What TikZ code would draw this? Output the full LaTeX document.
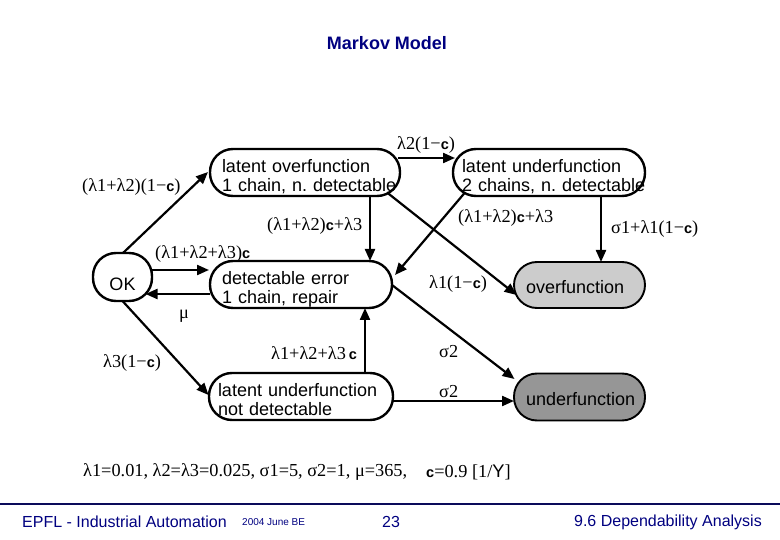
\documentclass[tikz,border=0pt]{standalone}
\usepackage{fontspec}
\setmainfont{Liberation Serif}
\setsansfont{Liberation Sans}
\usetikzlibrary{arrows.meta}
\definecolor{navy}{RGB}{0,0,128}
\definecolor{rulecol}{RGB}{10,10,90}
\newcommand{\cbold}{{\sffamily\bfseries\fontsize{14.5}{14.5}\selectfont c}}
\newcommand{\ptx}[2]{\raisebox{-#1}[0pt][0pt]{\begin{tabular}{@{}l@{}}#2\end{tabular}}}
\tikzset{
  pill/.style={draw=black,line width=2.4pt,fill=white,rounded corners=23pt,inner sep=0pt,
    font=\sffamily\frenchspacing\fontsize{18}{19}\selectfont,align=left},
  round3/.style={pill,line width=1.9pt},
  conn/.style={line width=2.2pt,-{Triangle[length=12pt,width=10pt]}},
  lab/.style={inner sep=0pt,anchor=west,font=\fontsize{18.3}{20}\selectfont},
  foot/.style={inner sep=0pt,text=navy,font=\sffamily\fontsize{16}{18}\selectfont}
}
\begin{document}
\begin{tikzpicture}[x=1pt,y=-1pt]
\useasboundingbox (0,0) rectangle (780,540);
% states
\node[pill,minimum width=59pt,minimum height=48pt,align=center] (ok) at (122.5,277) {\ptx{14pt}{OK}};
\node[pill,minimum width=190pt,minimum height=47pt,text width=166pt] (lo) at (305,172.5) {\ptx{10pt}{latent overfunction\\1 chain, n. detectable}};
\node[pill,minimum width=192pt,minimum height=47pt,text width=174pt] (lu) at (549,172.5) {\ptx{10pt}{latent underfunction\\2 chains, n. detectable}};
\node[pill,minimum width=182pt,minimum height=47pt,text width=158pt] (de) at (301,284.5) {\ptx{10pt}{detectable error\\1 chain, repair}};
\node[pill,minimum width=184pt,minimum height=47pt,text width=166pt] (ln) at (301,396.5) {\ptx{10pt}{latent underfunction\\not detectable}};
\node[round3,fill={rgb,255:red,204;green,204;blue,204},minimum width=131pt,minimum height=46pt,text width=107pt] (ov) at (579.5,285) {\ptx{9pt}{overfunction}};
\node[round3,fill={rgb,255:red,150;green,150;blue,150},minimum width=131pt,minimum height=47pt,text width=107pt] (un) at (579.5,397) {\ptx{9pt}{underfunction}};
% connectors
\draw[conn] ([shift={(0.5,-24)}]ok.center) -- ([shift={(-97,-0.5)}]lo.center);
\draw[conn] ([shift={(29.5,-7)}]ok.center) -- ([shift={(-92,-14.5)}]de.center);
\draw[conn] ([shift={(-91,9.5)}]de.center) -- ([shift={(23,17)}]ok.center);
\draw[conn] ([shift={(0,24)}]ok.center) -- ([shift={(-92.5,-1.5)}]ln.center);
\draw[conn] ([shift={(65,23.5)}]lo.center) -- ([shift={(69,-23.5)}]de.center);
\draw[conn] ([shift={(93,-14.5)}]lo.center) -- ([shift={(-94,-14.5)}]lu.center);
\draw[conn] ([shift={(82,20)}]lo.center) -- ([shift={(-63,10)}]ov.center);
\draw[conn] ([shift={(-84,20)}]lu.center) -- ([shift={(94,-9.5)}]de.center);
\draw[conn] ([shift={(52,23.5)}]lu.center) -- ([shift={(21.5,-23)}]ov.center);
\draw[conn] ([shift={(91,0.5)}]de.center) -- ([shift={(-65,-18)}]un.center);
\draw[conn] ([shift={(64,-23.5)}]ln.center) -- ([shift={(64,23.5)}]de.center);
\draw[conn] ([shift={(92,4.5)}]ln.center) -- ([shift={(-65.5,4)}]un.center);
% labels
\node[inner sep=0pt,text=navy,font=\sffamily\bfseries\fontsize{18}{20}\selectfont] (title) at (387,43) {Markov Model};
\node[lab] (l1) at (82,187) {(λ1+λ2)(1−\cbold)};
\node[lab] (l2) at (397,145) {λ2(1−\cbold)};
\node[lab] (l3) at (267,226) {(λ1+λ2)\cbold+λ3};
\node[lab] (l4) at (458,218) {(λ1+λ2)\cbold+λ3};
\node[lab] (l5) at (155,254) {(λ1+λ2+λ3)\cbold};
\node[lab] (l6) at (179,316) {μ};
\node[lab] (l7) at (103,363) {λ3(1−\cbold)};
\node[lab] (l8) at (271,353) {λ1+λ2+λ3\,\cbold};
\node[lab] (l9) at (429,284) {λ1(1−\cbold)};
\node[lab] (l10) at (611,229) {σ1+λ1(1−\cbold)};
\node[lab] (l11) at (439,352) {σ2};
\node[lab] (l12) at (439,392) {σ2};
\node[lab] (l13) at (83,472) {λ1=0.01, λ2=λ3=0.025, σ1=5, σ2=1, μ=365,};
\node[lab] (l14) at (426,472) {\cbold=0.9 [1/{\sffamily Y}]};
% footer
\draw[draw=rulecol,line width=2pt] (0,503.5) coordinate (ruleL) -- (780,503.5) coordinate (ruleR);
\node[foot,anchor=west] (f1) at (22,522) {EPFL - Industrial Automation};
\node[foot,anchor=west,font=\sffamily\fontsize{10}{11}\selectfont] (f2) at (242,522) {2004 June BE};
\node[foot] (f3) at (391,522) {23};
\node[foot,anchor=east] (f4) at (762,522) {9.6 Dependability Analysis};
\end{tikzpicture}
\end{document}
